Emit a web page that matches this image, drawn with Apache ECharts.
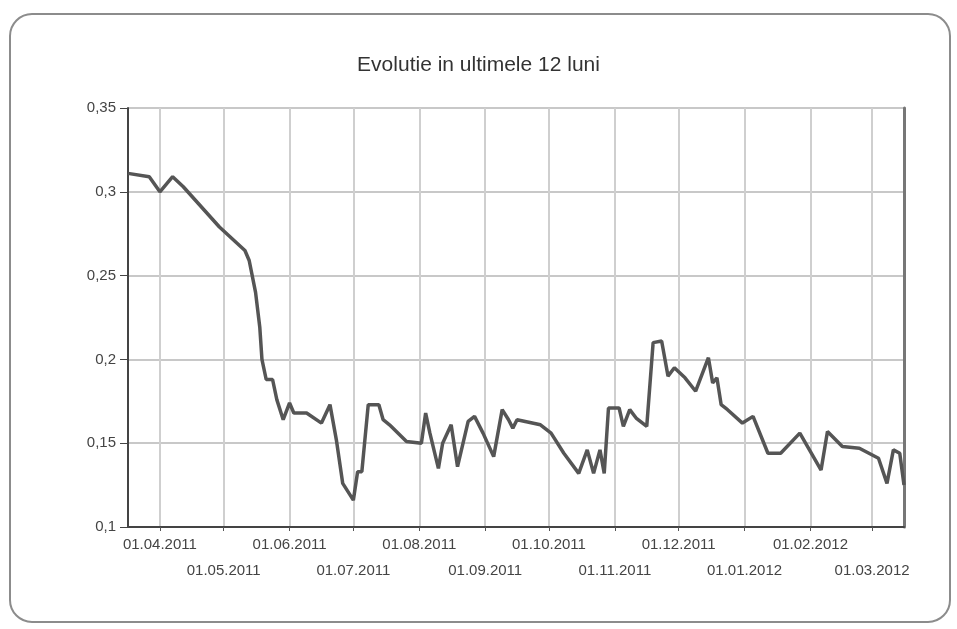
<!DOCTYPE html>
<html>
<head>
    <meta charset="utf-8" />
    <title>Evolutie in ultimele 12 luni</title>
    <style>
        html, body {
            margin: 0;
            padding: 0;
            background: #fff;
        }
        #chart {
            width: 957px;
            height: 629px;
        }
    </style>
    <script src="https://cdn.jsdelivr.net/npm/echarts@6/dist/echarts.min.js"></script>
</head>
<body>
    <div id="chart"></div>
    <script>
        var title = 'Evolutie in ultimele 12 luni';

        var dates = ['2011-03-17', '2011-03-27', '2011-04-01', '2011-04-07', '2011-04-12', '2011-04-29',
            '2011-05-11', '2011-05-13', '2011-05-16', '2011-05-18', '2011-05-19', '2011-05-21', '2011-05-24',
            '2011-05-26', '2011-05-29', '2011-06-01', '2011-06-03', '2011-06-09', '2011-06-16', '2011-06-20',
            '2011-06-23', '2011-06-26', '2011-07-01', '2011-07-03', '2011-07-05', '2011-07-08', '2011-07-13',
            '2011-07-15', '2011-07-18', '2011-07-26', '2011-08-02', '2011-08-04', '2011-08-06', '2011-08-10',
            '2011-08-12', '2011-08-16', '2011-08-19', '2011-08-24', '2011-08-27', '2011-08-31', '2011-09-05',
            '2011-09-09', '2011-09-12', '2011-09-14', '2011-09-16', '2011-09-27', '2011-10-02', '2011-10-08',
            '2011-10-15', '2011-10-19', '2011-10-22', '2011-10-25', '2011-10-27', '2011-10-29', '2011-11-03',
            '2011-11-05', '2011-11-08', '2011-11-11', '2011-11-16', '2011-11-19', '2011-11-23', '2011-11-26',
            '2011-11-29', '2011-12-04', '2011-12-09', '2011-12-15', '2011-12-17', '2011-12-19', '2011-12-21',
            '2011-12-24', '2011-12-31', '2012-01-05', '2012-01-12', '2012-01-18', '2012-01-27', '2012-02-06',
            '2012-02-09', '2012-02-16', '2012-02-24', '2012-03-04', '2012-03-08', '2012-03-11', '2012-03-14',
            '2012-03-16'];

        var values = [0.311, 0.309, 0.300, 0.309, 0.303, 0.279,
            0.265, 0.259, 0.240, 0.219, 0.200, 0.188, 0.188,
            0.176, 0.164, 0.174, 0.168, 0.168, 0.162, 0.173,
            0.152, 0.126, 0.116, 0.133, 0.133, 0.173, 0.173,
            0.164, 0.161, 0.151, 0.150, 0.168, 0.156, 0.135,
            0.150, 0.161, 0.136, 0.163, 0.166, 0.156, 0.142,
            0.170, 0.164, 0.159, 0.164, 0.161, 0.156, 0.144,
            0.132, 0.146, 0.132, 0.146, 0.132, 0.171, 0.171,
            0.160, 0.170, 0.165, 0.160, 0.210, 0.211, 0.190,
            0.195, 0.189, 0.181, 0.201, 0.186, 0.189, 0.173,
            0.170, 0.162, 0.166, 0.144, 0.144, 0.156, 0.134,
            0.157, 0.148, 0.147, 0.141, 0.126, 0.146, 0.144,
            0.125];

        // month ticks: labels alternate between an upper and a lower row
        var monthTicks = ['2011-04-01', '2011-05-01', '2011-06-01', '2011-07-01', '2011-08-01', '2011-09-01',
            '2011-10-01', '2011-11-01', '2011-12-01', '2012-01-01', '2012-02-01', '2012-03-01'];
        var upperRow = ['2011-04-01', '2011-06-01', '2011-08-01', '2011-10-01', '2011-12-01', '2012-02-01'];
        var lowerRow = ['2011-05-01', '2011-07-01', '2011-09-01', '2011-11-01', '2012-01-01', '2012-03-01'];

        var startDate = '2011-03-17';
        var endDate = '2012-03-16';

        function toTime(s) {
            var p = s.split('-');
            return Date.UTC(+p[0], +p[1] - 1, +p[2]);
        }

        function pad(n) {
            return n < 10 ? '0' + n : '' + n;
        }

        function fmtDate(value) {
            var d = new Date(value);
            return pad(d.getUTCDate()) + '.' + pad(d.getUTCMonth() + 1) + '.' + d.getUTCFullYear();
        }

        var seriesData = [];
        for (var i = 0; i < dates.length; i++) {
            seriesData.push([toTime(dates[i]), values[i]]);
        }

        var labelStyle = {
            interval: 0,
            color: '#444',
            fontSize: 15,
            formatter: fmtDate
        };

        var myChart = echarts.init(document.getElementById('chart'));
        var option = {
            backgroundColor: '#fff',
            animation: false,
            textStyle: {
                fontFamily: 'Liberation Sans, Arial, sans-serif'
            },
            title: {
                text: title,
                left: 'center',
                top: 50,
                textStyle: {
                    color: '#333',
                    fontSize: 21,
                    fontWeight: 'normal'
                }
            },
            graphic: [{
                type: 'rect',
                shape: { x: 10, y: 14, width: 940, height: 608, r: 22 },
                style: { fill: 'none', stroke: '#8c8c8c', lineWidth: 2 },
                silent: true
            }],
            grid: {
                left: 128,
                right: 53,
                top: 108,
                bottom: 102
            },
            xAxis: [
                {
                    type: 'value',
                    min: toTime(startDate),
                    max: toTime(endDate),
                    axisLine: {
                        lineStyle: { color: '#444', width: 2 }
                    },
                    axisTick: {
                        customValues: monthTicks.map(toTime),
                        length: 4,
                        lineStyle: { color: '#555' }
                    },
                    axisLabel: Object.assign({
                        customValues: upperRow.map(toTime),
                        margin: 10
                    }, labelStyle),
                    splitLine: {
                        show: true,
                        lineStyle: { color: '#cfcfcf', width: 2 }
                    }
                },
                {
                    type: 'value',
                    position: 'bottom',
                    min: toTime(startDate),
                    max: toTime(endDate),
                    axisLine: { show: false },
                    axisTick: { show: false },
                    axisLabel: Object.assign({
                        customValues: lowerRow.map(toTime),
                        margin: 36
                    }, labelStyle),
                    splitLine: { show: false }
                }
            ],
            yAxis: [
                {
                    type: 'value',
                    min: 0.1,
                    max: 0.35,
                    interval: 0.05,
                    axisLine: {
                        show: true,
                        lineStyle: { color: '#444', width: 2 }
                    },
                    axisTick: {
                        show: true,
                        length: 8,
                        lineStyle: { color: '#444' }
                    },
                    axisLabel: {
                        margin: 12,
                        color: '#444',
                        fontSize: 15,
                        formatter: function (v) {
                            return String(+v.toFixed(2)).replace('.', ',');
                        }
                    },
                    splitLine: {
                        show: true,
                        lineStyle: { color: '#c8c8c8', width: 2 }
                    }
                },
                {
                    type: 'value',
                    position: 'right',
                    min: 0.1,
                    max: 0.35,
                    interval: 0.05,
                    axisLine: {
                        show: true,
                        lineStyle: { color: '#777', width: 3 }
                    },
                    axisTick: { show: false },
                    axisLabel: { show: false },
                    splitLine: { show: false }
                }
            ],
            series: [
                {
                    name: title,
                    type: 'line',
                    xAxisIndex: 0,
                    yAxisIndex: 0,
                    showSymbol: false,
                    lineStyle: { color: '#555', width: 3.5 },
                    data: seriesData
                }
            ]
        };
        myChart.setOption(option);
    </script>
</body>
</html>
